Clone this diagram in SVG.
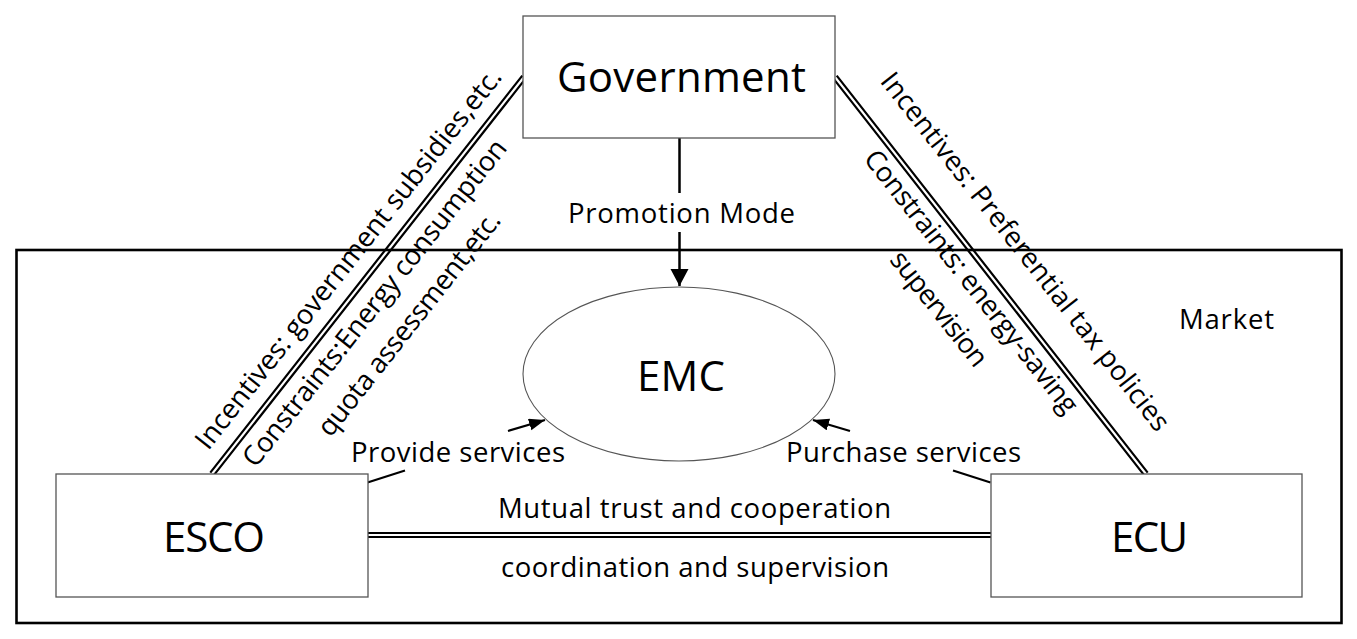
<svg xmlns="http://www.w3.org/2000/svg" width="1357" height="639" viewBox="0 0 1357 639">
<defs>
<style>
text{font-family:"Open Sans","Noto Sans","Liberation Sans",sans-serif;fill:#000}
.big{font-size:42px;text-anchor:middle}
.gov{font-size:42px;text-anchor:middle}
.lbl{font-size:27.5px;text-anchor:middle}
.box{fill:#fff;stroke:#555;stroke-width:1.3}
.dbl{stroke:#000;stroke-width:2.2;fill:none}
.arr{stroke:#000;stroke-width:2.5;fill:none}
.thin{stroke:#000;stroke-width:2.2;fill:none}
</style>
<marker id="ah" markerUnits="userSpaceOnUse" markerWidth="20" markerHeight="20" refX="17" refY="9" orient="auto">
<path d="M0,0 L17,9 L0,18 Z" fill="#000"/>
</marker>
<marker id="ahs" markerUnits="userSpaceOnUse" markerWidth="20" markerHeight="14" refX="16" refY="6" orient="auto">
<path d="M0,0 L16,6 L0,12 Z" fill="#000"/>
</marker>
</defs>
<rect width="1357" height="639" fill="#fff"/>

<g id="market">
<rect x="16.5" y="250" width="1325" height="373" fill="none" stroke="#000" stroke-width="2.6"/>
<text class="lbl" x="1226.5" y="329" textLength="95" lengthAdjust="spacing">Market</text>
</g>

<g id="connectors">
<path class="arr" d="M679.5,138 V193 M679.5,232 V286" marker-end="url(#ah)"/>
<path class="thin" d="M367.5,482.5 L405,470.5 M508,431 L545,420" marker-end="url(#ahs)"/>
<path class="thin" d="M990.5,482.5 L953,470.5 M850,431 L813,420" marker-end="url(#ahs)"/>
<path class="dbl" d="M522.3,75.6 L210.3,472.6 M525.7,78.4 L213.7,475.4"/>
<path class="dbl" d="M836.7,75.6 L1147.7,472.6 M833.3,78.4 L1144.3,475.4"/>
<path class="dbl" d="M368,533 H991 M368,537 H991"/>
</g>

<g id="government">
<rect class="box" x="523" y="16" width="312" height="122"/>
<text class="gov" x="681.5" y="92" textLength="249" lengthAdjust="spacing">Government</text>
</g>

<g id="emc">
<ellipse cx="679" cy="374" rx="156" ry="87" fill="none" stroke="#555" stroke-width="1.1"/>
<text class="big" x="681" y="391" textLength="88" lengthAdjust="spacing">EMC</text>
</g>

<g id="esco">
<rect class="box" x="56" y="474" width="312" height="123"/>
<text class="big" x="214" y="552" textLength="102" lengthAdjust="spacing">ESCO</text>
</g>

<g id="ecu">
<rect class="box" x="991" y="474" width="311" height="123"/>
<text class="big" x="1149.5" y="552" textLength="77" lengthAdjust="spacing">ECU</text>
</g>

<g id="labels">
<text class="lbl" x="681.5" y="223" textLength="227" lengthAdjust="spacing">Promotion Mode</text>
<text class="lbl" x="458" y="462" textLength="214" lengthAdjust="spacing">Provide services</text>
<text class="lbl" x="903.5" y="462" textLength="235" lengthAdjust="spacing">Purchase services</text>
<text class="lbl" x="694.5" y="518" textLength="393" lengthAdjust="spacing">Mutual trust and cooperation</text>
<text class="lbl" x="695" y="577" textLength="388" lengthAdjust="spacing">coordination and supervision</text>
<g transform="translate(212,474) rotate(-51.75)">
<text class="lbl" x="253.6" y="-17" textLength="476" lengthAdjust="spacing">Incentives: government subsidies,etc.</text>
<text class="lbl" x="235" y="31" textLength="408" lengthAdjust="spacing">Constraints:Energy consumption</text>
<text class="lbl" x="240" y="71" textLength="277" lengthAdjust="spacing">quota assessment,etc.</text>
</g>
<g transform="translate(835,77) rotate(51.75)">
<text class="lbl" x="255" y="-32" textLength="448" lengthAdjust="spacing">Incentives: Preferential tax policies</text>
<text class="lbl" x="245" y="29" textLength="327" lengthAdjust="spacing">Constraints: energy-saving</text>
<text class="lbl" x="246.5" y="71" textLength="139" lengthAdjust="spacing">supervision</text>
</g>
</g>
</svg>
